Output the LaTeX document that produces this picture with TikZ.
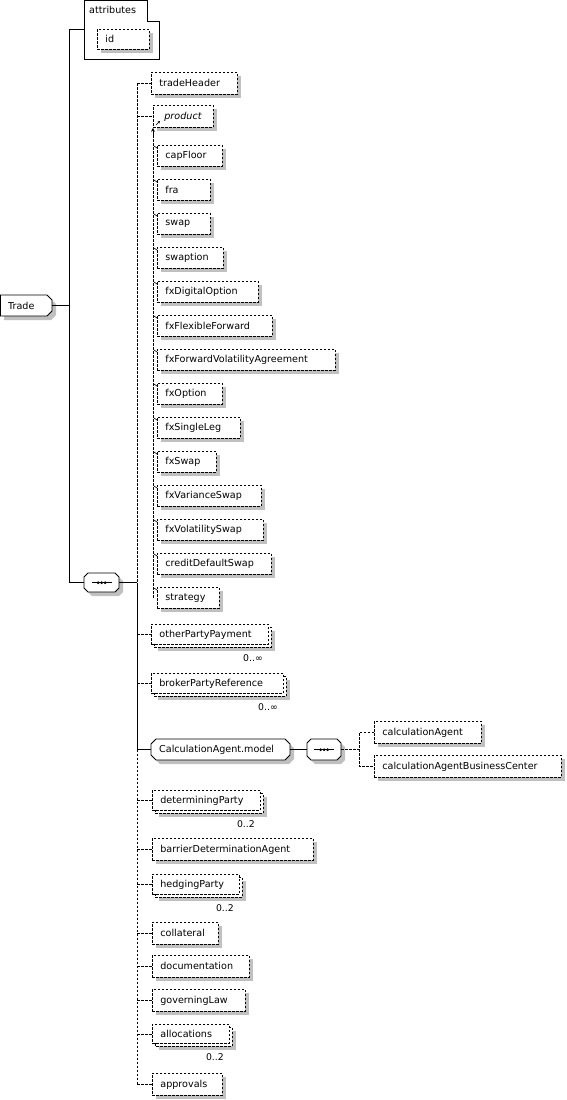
\documentclass[tikz,border=0pt]{standalone}
\usepackage{fontspec}
\setmainfont{DejaVu Sans}
\usetikzlibrary{arrows.meta}
\definecolor{shc}{RGB}{192,192,192}
\tikzset{
 dl/.style={draw=black, line width=0.8pt, dash pattern=on 2.5pt off 1.5pt},
 sl/.style={draw=black, line width=0.8pt},
 txt/.style={font=\fontsize{9.6}{11}\selectfont, inner xsep=8pt, inner ysep=0pt, anchor=north west, align=left},
 mult/.style={font=\fontsize{9.3}{11}\selectfont, inner sep=0pt, anchor=east},
}
% plain element box: [style]{name}{x1}{y1}{x2}{y2}{text}
\newcommand\elbox[7][]{%
 \fill[shc] (#3+4,#4+4) rectangle (#5+4,#6+4);
 \pgfmathsetmacro\tw{#5-#3-16}\pgfmathsetmacro\th{#6-#4}%
 \node[txt, fill=white, dl, text width=\tw pt, minimum height=\th pt, #1] (#2) at (#3,#4) {#7};}
% multiple element box: {name}{x1}{y1}{x2}{y2}{text}{label}
\newcommand\multbox[7]{%
 \fill[shc] (#2+7,#3+7) rectangle (#4+4,#5+4);
 \draw[dl, fill=white] (#2+3,#3+3) rectangle (#4,#5);
 \pgfmathsetmacro\tw{#4-#2-19}\pgfmathsetmacro\th{#5-#3-3}%
 \node[txt, fill=white, dl, text width=\tw pt, minimum height=\th pt] (#1) at (#2,#3) {#6};
 \node[mult] (#1m) at (#4-8,#5+11) {#7};}
% chamfered box: {name}{x1}{y1}{x2}{y2}{c}{text}
\newcommand\chambox[7]{%
 \fill[shc, shift={(4,4)}] (#2+#6,#3) -- (#4-#6,#3) -- (#4,#3+#6) -- (#4,#5-#6) -- (#4-#6,#5) -- (#2+#6,#5) -- (#2,#5-#6) -- (#2,#3+#6) -- cycle;
 \draw[sl, fill=white] (#2+#6,#3) -- (#4-#6,#3) -- (#4,#3+#6) -- (#4,#5-#6) -- (#4-#6,#5) -- (#2+#6,#5) -- (#2,#5-#6) -- (#2,#3+#6) -- cycle;
 \pgfmathsetmacro\tw{#4-#2-16}\pgfmathsetmacro\th{#5-#3}%
 \node[txt, text width=\tw pt, minimum height=\th pt] (#1) at (#2,#3) {#7};}
\newcommand\seqdots[1]{%
 \draw[sl] ([xshift=-10pt]#1.center) -- ([xshift=10pt]#1.center);
 \foreach \dx in {-3.5,0,3.5} \fill ([xshift=\dx pt]#1.center) circle (1.5pt);}
\begin{document}
\begin{tikzpicture}[x=1pt,y=-1pt]
\useasboundingbox (0,0) rectangle (567,1100);
\fill[white] (0,0) rectangle (567,1100);
\coordinate (trunk) at (69,0);
\coordinate (bus) at (137,0);
\coordinate (sub) at (153,0);
\coordinate (sub2) at (359,0);
% attributes
\draw[sl] (84,0.5) -- (147,0.5) -- (147,21) -- (159,21) -- (159,59) -- (84,59) -- cycle;
\node[txt, inner xsep=0pt, anchor=west] (attrlabel) at (89,10) {attributes};
\node[inner sep=0pt, minimum width=75pt, minimum height=59pt, anchor=north west] (attr) at (84,0) {};
\elbox{id}{97}{29}{149}{49}{id}
% Trade
\fill[shc, shift={(4,4)}] (0,295) -- (47,295) -- (52,300) -- (52,311) -- (47,316) -- (0,316) -- cycle;
\draw[sl, fill=white] (0.5,295) -- (47,295) -- (52,300) -- (52,311) -- (47,316) -- (0.5,316) -- cycle;
\node[txt, text width=36pt, minimum height=21pt] (Trade) at (0,295) {Trade};
\node[inner sep=0pt, minimum width=52pt, minimum height=21pt, anchor=north west] (TradeB) at (0,295) {};
% sequence 1
\chambox{seq1}{84}{573}{119}{592}{4}{}
\seqdots{seq1}
\draw[sl] (TradeB.east) -- (trunk |- TradeB.east);
\draw[sl] (attr.west) -- (trunk |- attr.west) -- (trunk |- seq1.west) -- (seq1.west);
\draw[sl] (seq1.east) -- (bus |- seq1.east);
% children
\elbox{th}{151}{72}{237}{94}{tradeHeader}
\elbox{prod}{153}{105}{213}{127}{\hspace{3pt}\textit{product}}
\draw[sl, line width=0.6pt, -{Stealth[length=2.5pt,width=2.5pt]}] (156,125) -- (160,121);
\foreach \t/\r [count=\i] in {capFloor/222, fra/210, swap/210, swaption/223, fxDigitalOption/258, fxFlexibleForward/272, fxForwardVolatilityAgreement/335, fxOption/222, fxSingleLeg/240, fxSwap/216, fxVarianceSwap/261, fxVolatilitySwap/263, creditDefaultSwap/271, strategy/219} {
 \pgfmathsetmacro\yy{145+34*(\i-1)}
 \elbox{m\i}{157}{\yy}{\r}{\yy+21}{\t}
 \draw[sl, line width=0.6pt] ([yshift=-3pt]m\i.north west) -- ++(-3,-2);
}
\draw[dl] (sub |- m14.west) -- (153,136);
\draw[sl, -{Stealth[length=4pt,width=4pt]}] (153,136) -- (sub |- prod.south);
\multbox{opp}{151}{624}{271}{647}{otherPartyPayment}{0..∞}
\multbox{bpr}{151}{673}{286}{696}{brokerPartyReference}{0..∞}
\chambox{cam}{151}{739}{290}{760}{5}{CalculationAgent.model}
\chambox{seq2}{307}{739}{341}{760}{4}{}
\seqdots{seq2}
\draw[sl] (cam.east) -- (seq2.west);
\elbox{ca}{374}{721}{481}{743}{calculationAgent}
\elbox{cabc}{374}{755}{561}{777}{calculationAgentBusinessCenter}
\draw[dl] (seq2.east) -- (sub2 |- seq2.east);
\draw[dl] (ca.west) -- (sub2 |- ca.west) -- (sub2 |- cabc.west) -- (cabc.west);
\multbox{dp}{152}{790}{263}{813}{determiningParty}{0..2}
\elbox{bda}{152}{838}{313}{860}{barrierDeterminationAgent}
\multbox{hp}{152}{874}{242}{897}{hedgingParty}{0..2}
\elbox{col}{152}{922}{218}{944}{collateral}
\elbox{doc}{152}{955}{249}{977}{documentation}
\elbox{gl}{152}{989}{245}{1011}{governingLaw}
\multbox{al}{152}{1024}{232}{1046}{allocations}{0..2}
\elbox{ap}{152}{1073}{222}{1095}{approvals}
% bus
\draw[dl] (bus |- th.west) -- (bus |- seq1.east);
\draw[sl] (bus |- seq1.east) -- (bus |- cam.west);
\draw[dl] (bus |- cam.west) -- (bus |- ap.west);
\foreach \n in {th,prod,opp,bpr,dp,bda,hp,col,doc,gl,al,ap}
 \draw[dl] (bus |- \n.west) -- (\n.west);
\draw[sl] (bus |- cam.west) -- (cam.west);
\end{tikzpicture}
\end{document}
